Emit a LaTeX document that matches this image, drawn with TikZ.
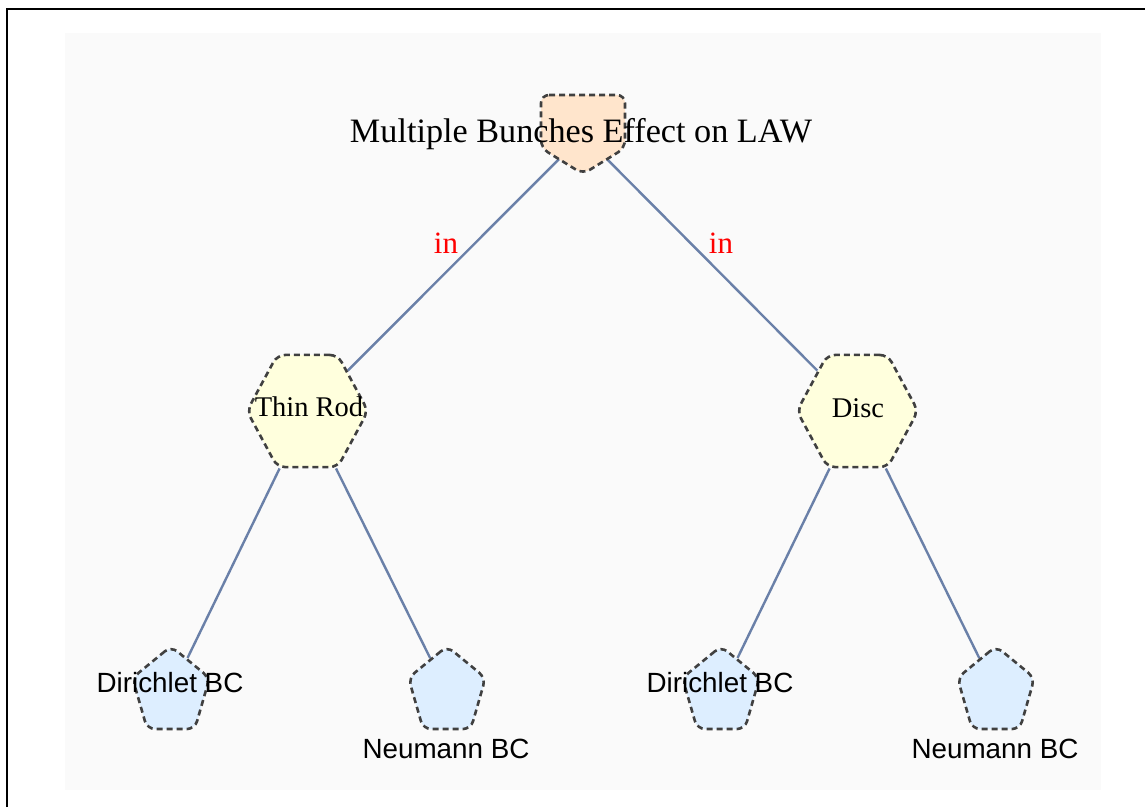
\documentclass[tikz,border=0pt]{standalone}
\usepackage{fontspec}
\setmainfont{Liberation Serif}
\newfontfamily\arialf{Liberation Sans}
\usetikzlibrary{shapes.geometric}
\definecolor{edgecol}{RGB}{106,128,168}
\definecolor{borderc}{RGB}{64,64,64}
\definecolor{rootfill}{RGB}{255,229,204}
\definecolor{hexfill}{RGB}{255,255,221}
\definecolor{pentfill}{RGB}{221,238,255}
\definecolor{bgfill}{RGB}{250,250,250}
\definecolor{lblred}{RGB}{255,0,0}
\pgfdeclarelayer{bgl}
\pgfdeclarelayer{edgel}
\pgfsetlayers{bgl,edgel,main}
\begin{document}
\begin{tikzpicture}[x=1pt,y=-1pt,
  shapebox/.style={draw=borderc, dash pattern=on 6pt off 4pt, line width=2.6pt, rounded corners=8pt, inner sep=0pt},
  hexbox/.style={shapebox, regular polygon, regular polygon sides=6, minimum size=121pt, fill=hexfill, transform shape},
  pentbox/.style={shapebox, regular polygon, regular polygon sides=5, minimum size=81pt, fill=pentfill, transform shape},
  link/.style={draw=edgecol, line width=2.4pt},
  seriflbl/.style={anchor=base, inner sep=0pt, font=\fontsize{28.5}{34}\selectfont},
  sanslbl/.style={anchor=base, inner sep=0pt, font=\arialf\fontsize{27.8}{32}\selectfont},
  inlbl/.style={anchor=base, inner sep=0pt, text=lblred, font=\fontsize{31}{36}\selectfont}]
\useasboundingbox (0,0) rectangle (1145,807);
\begin{pgfonlayer}{bgl}
  \fill[bgfill] (65,33) rectangle (1101,790);
  \draw[line width=2pt] (7,807) -- (7,9) -- (1145,9);
\end{pgfonlayer}
% root
\draw[shapebox, fill=rootfill] (541,95) -- (625,95) -- (625,148) -- (583,174) -- (541,148) -- cycle;
\coordinate (root) at (583,135);
% hexagons
\begin{scope}[shift={(307.5,411)}, yscale=1.07]
  \node[hexbox] (rod) at (0,0) {};
\end{scope}
\begin{scope}[shift={(857.5,411)}, yscale=1.07]
  \node[hexbox] (disc) at (0,0) {};
\end{scope}
% pentagons
\begin{scope}[shift={(171,692)}, yscale=1.13]
  \node[pentbox] (d1) at (0,0) {};
\end{scope}
\begin{scope}[shift={(447,692)}, yscale=1.13]
  \node[pentbox] (n1) at (0,0) {};
\end{scope}
\begin{scope}[shift={(721,692)}, yscale=1.13]
  \node[pentbox] (d2) at (0,0) {};
\end{scope}
\begin{scope}[shift={(996,692)}, yscale=1.13]
  \node[pentbox] (n2) at (0,0) {};
\end{scope}
% edges
\begin{pgfonlayer}{edgel}
  \draw[link] (root) -- (rod);
  \draw[link] (root) -- (disc);
  \draw[link] (rod) -- (d1);
  \draw[link] (rod) -- (n1);
  \draw[link] (disc) -- (d2);
  \draw[link] (disc) -- (n2);
\end{pgfonlayer}
% labels
\node[anchor=base, inner sep=0pt, font=\fontsize{34.2}{40}\selectfont] (rootlbl) at (581,142) {Multiple Bunches Effect on LAW};
\node[inlbl] (in1) at (446,253) {in};
\node[inlbl] (in2) at (721,253) {in};
\node[seriflbl] (rodlbl) at (309,416) {Thin Rod};
\node[seriflbl] (disclbl) at (858,417) {Disc};
\node[sanslbl] (d1lbl) at (170,692) {Dirichlet BC};
\node[sanslbl] (n1lbl) at (446,758) {Neumann BC};
\node[sanslbl] (d2lbl) at (720,692) {Dirichlet BC};
\node[sanslbl] (n2lbl) at (995,758) {Neumann BC};
\end{tikzpicture}
\end{document}
